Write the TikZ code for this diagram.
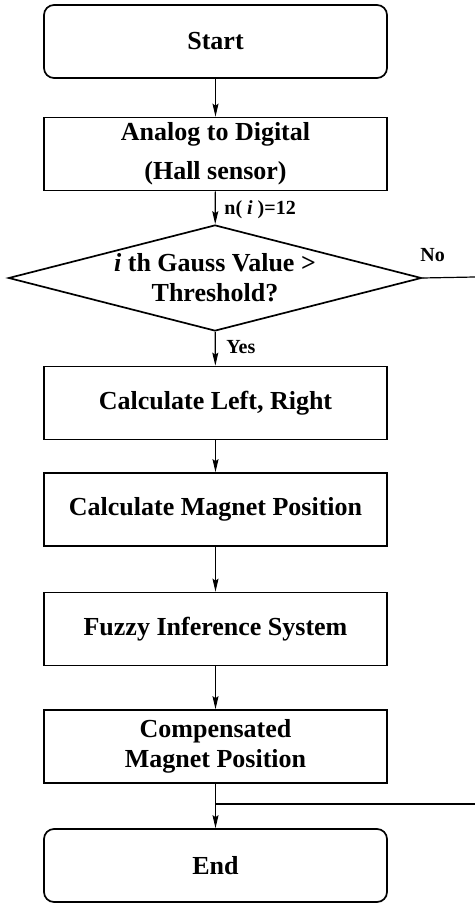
\documentclass[tikz,border=0pt]{standalone}
\usepackage{fontspec}
\setmainfont{Liberation Serif}
\usetikzlibrary{arrows.meta,shapes.geometric}

\tikzset{
  box/.style={draw,line width=0.85pt,minimum width=171.5pt,minimum height=36.5pt,
    inner sep=0pt,align=center,font=\bfseries\fontsize{13}{15}\selectfont},
  term/.style={box,rounded corners=5pt},
  decide/.style={draw,line width=0.85pt,diamond,aspect=3.9,minimum width=206.5pt,
    minimum height=53pt,inner sep=0pt,align=center,font=\bfseries\fontsize{13}{15}\selectfont},
  flow/.style={line width=0.6pt,-{Stealth[length=6.5pt,width=3pt,inset=1pt]}},
  lbl/.style={font=\bfseries\fontsize{10}{12}\selectfont,inner sep=0pt}
}

\begin{document}
\begin{tikzpicture}[x=0.5pt,y=-0.5pt]
                \useasboundingbox(0,0)rectangle(475,903);
                \node[term](start)at(215.5,41.5){Start};
                \node[box](adc)at(215.5,154){\raisebox{-2pt}{Analog to Digital}\\[4.5pt]\raisebox{-2pt}{(Hall sensor)}};
                \node[decide](dec)at(215,278){\textit{i} th Gauss Value >\\Threshold?};
                \node[box](lr)at(215.5,403){Calculate Left, Right};
                \node[box](pos)at(215.5,509.5){Calculate Magnet Position};
                \node[box](fis)at(215.5,629){Fuzzy Inference System};
                \node[box](comp)at(215.5,746.5){Compensated\\Magnet Position};
                \node[term](end)at(215.5,865.5){End};
                \coordinate(noend)at(475,277);
                \coordinate(back)at(475,804);
                \draw[flow](start)--(adc);
                \draw[flow](adc)--(dec);
                \draw[flow](dec)--(lr);
                \draw[flow](lr)--(pos);
                \draw[flow](pos)--(fis);
                \draw[flow](fis)--(comp);
                \draw[flow](comp)--(end);
                \draw[line width=0.6pt](dec.east)--(noend);
                \draw[line width=0.6pt](comp.south|-back)--(back);
                \node[lbl,anchor=west](nlab)at(224,210){n( \textit{i} )=12};
                \node[lbl,anchor=west](nolab)at(420,255){No};
                \node[lbl,anchor=west](yeslab)at(226,347){Yes};
            \end{tikzpicture}
\end{document}
